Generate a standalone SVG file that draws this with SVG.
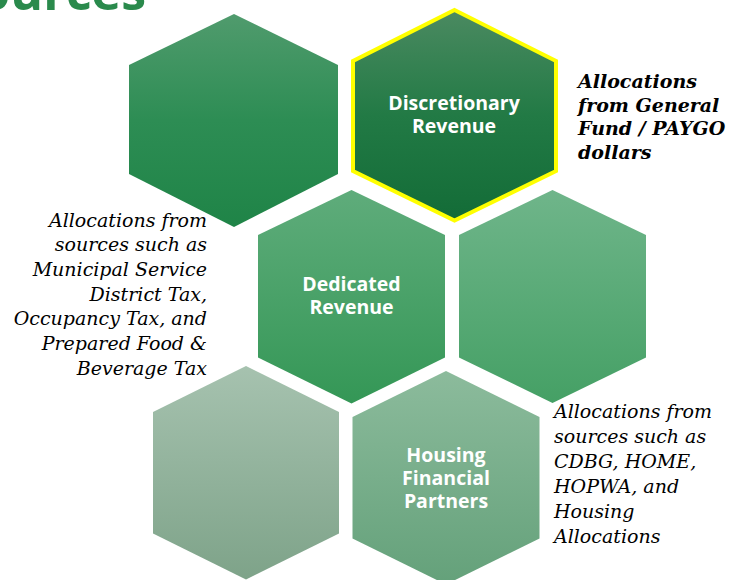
<svg xmlns="http://www.w3.org/2000/svg" width="732" height="580" viewBox="0 0 732 580">
<defs>
<linearGradient id="g1" x1="0" y1="0" x2="0" y2="1"><stop offset="0" stop-color="#509b6d"/><stop offset="0.5" stop-color="#2d8d54"/><stop offset="1" stop-color="#1f8447"/></linearGradient>
<linearGradient id="g2" x1="0" y1="0" x2="0" y2="1"><stop offset="0" stop-color="#4b8a61"/><stop offset="0.5" stop-color="#227a45"/><stop offset="1" stop-color="#136c37"/></linearGradient>
<linearGradient id="g3" x1="0" y1="0" x2="0" y2="1"><stop offset="0" stop-color="#5fac7b"/><stop offset="1" stop-color="#349756"/></linearGradient>
<linearGradient id="g4" x1="0" y1="0" x2="0" y2="1"><stop offset="0" stop-color="#6fb58a"/><stop offset="1" stop-color="#45a065"/></linearGradient>
<linearGradient id="g5" x1="0" y1="0" x2="0" y2="1"><stop offset="0" stop-color="#a6c2af"/><stop offset="1" stop-color="#7ea389"/></linearGradient>
<linearGradient id="g6" x1="0" y1="0" x2="0" y2="1"><stop offset="0" stop-color="#8cbb9c"/><stop offset="1" stop-color="#64a17a"/></linearGradient>
</defs>
<style>
.lbl{font-family:"Open Sans","DejaVu Sans",sans-serif;font-weight:700;font-size:19.5px;fill:#ffffff;text-anchor:middle}
.note{font-family:"DejaVu Serif","Liberation Serif",serif;font-style:italic;font-size:19px;fill:#000000}
.noteb{font-family:"DejaVu Serif","Liberation Serif",serif;font-style:italic;font-weight:bold;font-size:19px;fill:#000000}
.title{font-family:"Open Sans","DejaVu Sans",sans-serif;font-weight:700;font-size:50px;fill:#2a8a4c}
</style>
<rect width="732" height="580" fill="#ffffff"/>
<text class="title" x="146" y="10" text-anchor="end">Sources</text>
<g id="connectors"></g>
<g id="hex-top-left">
<polygon points="234,14 338,65 338,174 234,227 129,174 129,65" fill="url(#g1)"/>
</g>
<g id="hex-discretionary">
<polygon points="454.5,10 556,61 556,171 454.5,220.5 353,171 353,61" fill="url(#g2)" stroke="#ffff00" stroke-width="4" stroke-linejoin="miter"/>
<text class="lbl" x="454" y="110">Discretionary</text>
<text class="lbl" x="454" y="133">Revenue</text>
</g>
<g id="hex-dedicated">
<polygon points="351.5,190 445,235 445,357.5 351.5,403.5 258,357.5 258,235" fill="url(#g3)"/>
<text class="lbl" x="351.5" y="291">Dedicated</text>
<text class="lbl" x="351.5" y="314">Revenue</text>
</g>
<g id="hex-mid-right">
<polygon points="552.5,190 646,235 646,357.5 552.5,403 459,357.5 459,235" fill="url(#g4)"/>
</g>
<g id="hex-bottom-left">
<polygon points="246,366 339,412 339,533.5 246,579.5 153,533.5 153,412" fill="url(#g5)"/>
</g>
<g id="hex-housing">
<polygon points="446,371 539.5,417 539.5,538.5 446,584.5 352.5,538.5 352.5,417" fill="url(#g6)"/>
<text class="lbl" x="446" y="461.5">Housing</text>
<text class="lbl" x="446" y="484.5">Financial</text>
<text class="lbl" x="446" y="507.5">Partners</text>
</g>
<g id="note-general-fund">
<text class="noteb" x="578" y="88">Allocations</text>
<text class="noteb" x="578" y="111.5">from General</text>
<text class="noteb" x="578" y="135">Fund / PAYGO</text>
<text class="noteb" x="578" y="158.5">dollars</text>
</g>
<g id="note-dedicated" text-anchor="end">
<text class="note" x="207" y="226.5">Allocations from</text>
<text class="note" x="207" y="251.3">sources such as</text>
<text class="note" x="207" y="276">Municipal Service</text>
<text class="note" x="207" y="300.7">District Tax,</text>
<text class="note" x="207" y="325.4">Occupancy Tax, and</text>
<text class="note" x="207" y="350.1">Prepared Food &amp;</text>
<text class="note" x="207" y="374.8">Beverage Tax</text>
</g>
<g id="note-housing">
<text class="note" x="554" y="418.3">Allocations from</text>
<text class="note" x="554" y="443.3">sources such as</text>
<text class="note" x="554" y="468.3">CDBG, HOME,</text>
<text class="note" x="554" y="493.3">HOPWA, and</text>
<text class="note" x="554" y="518.3">Housing</text>
<text class="note" x="554" y="543.3">Allocations</text>
</g>
</svg>
